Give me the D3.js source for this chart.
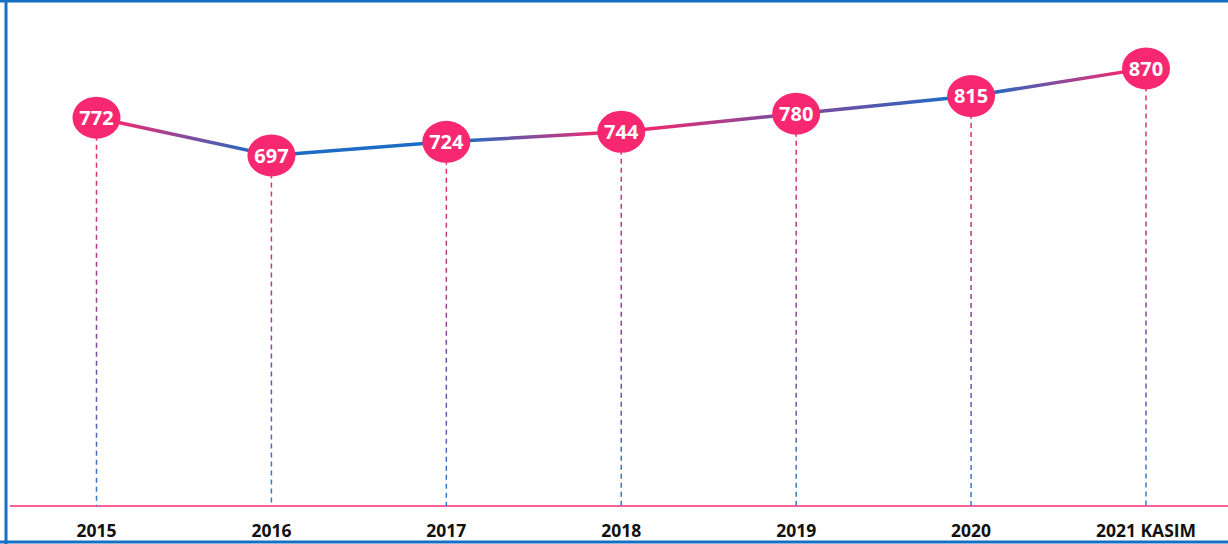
<!DOCTYPE html>
<html>
<head>
<meta charset="utf-8">
<script src="https://cdn.jsdelivr.net/npm/d3@7"></script>
<style>
  body { margin: 0; background: #fff; }
  svg { display: block; }
  .lbl { font-family: "Open Sans", sans-serif; font-weight: 700; }
</style>
</head>
<body>
<svg id="chart" width="1228" height="544"></svg>
<script>
const years = ["2015", "2016", "2017", "2018", "2019", "2020", "2021 KASIM"];
const values = [772, 697, 724, 744, 780, 815, 870];
// colour of the line at each point (the segments blend between them)
const pointColors = ["pink", "blue", "blue", "pink", "purple", "blue", "pink"];

const PINK = "#f7286f", BLUE = "#1d6cc4", PURPLE = "#7a4a9e";
const colorOf = { pink: PINK, blue: BLUE, purple: PURPLE };

var svg = d3.select("svg#chart"),
    width = +svg.attr("width"),
    height = +svg.attr("height");

// frame
svg.append("line").attr("x1", 6).attr("x2", 6).attr("y1", 0).attr("y2", height)
  .attr("stroke", "#1570c4").attr("stroke-width", 3);
svg.append("line").attr("x1", 0).attr("x2", width).attr("y1", 1).attr("y2", 1)
  .attr("stroke", "#1570c4").attr("stroke-width", 3);
svg.append("line").attr("x1", 0).attr("x2", width).attr("y1", 542).attr("y2", 542)
  .attr("stroke", "#1570c4").attr("stroke-width", 3);

// SCALES
var x = d3.scalePoint().domain(years).range([96.5, 1146]);
var y = d3.scaleLinear().domain([0, 1000]).range([506, 3]);

var defs = svg.append("defs");

// baseline
svg.append("line")
  .attr("x1", 10).attr("x2", width)
  .attr("y1", y(0)).attr("y2", y(0))
  .attr("stroke", "#ff2a7a").attr("stroke-width", 1.5);

// drop lines, pink at top fading to blue at bottom
years.forEach((yr, i) => {
  var id = "drop" + i;
  var g = defs.append("linearGradient").attr("id", id)
    .attr("gradientUnits", "userSpaceOnUse")
    .attr("x1", 0).attr("x2", 0).attr("y1", y(values[i])).attr("y2", y(0));
  g.append("stop").attr("offset", 0).attr("stop-color", PINK);
  g.append("stop").attr("offset", 0.6).attr("stop-color", PURPLE);
  g.append("stop").attr("offset", 1).attr("stop-color", "#2a7fd0");
  svg.append("line")
    .attr("x1", x(yr)).attr("x2", x(yr))
    .attr("y1", y(values[i])).attr("y2", y(0))
    .attr("stroke", `url(#${id})`)
    .attr("stroke-width", 1.5)
    .attr("stroke-dasharray", "5,4");
});

// line segments with per-segment gradient
for (let i = 0; i < years.length - 1; i++) {
  var id = "seg" + i;
  var x1 = x(years[i]), x2 = x(years[i + 1]);
  var y1 = y(values[i]), y2 = y(values[i + 1]);
  var g = defs.append("linearGradient").attr("id", id)
    .attr("gradientUnits", "userSpaceOnUse")
    .attr("x1", x1).attr("x2", x2).attr("y1", y1).attr("y2", y2);
  g.append("stop").attr("offset", 0.1).attr("stop-color", colorOf[pointColors[i]]);
  g.append("stop").attr("offset", 0.9).attr("stop-color", colorOf[pointColors[i + 1]]);
  svg.append("line")
    .attr("x1", x1).attr("y1", y1).attr("x2", x2).attr("y2", y2)
    .attr("stroke", `url(#${id})`)
    .attr("stroke-width", 3.5)
    .attr("stroke-linecap", "round");
}

// markers
var pts = svg.append("g").selectAll("g")
  .data(values)
  .enter().append("g")
  .attr("transform", (d, i) => `translate(${x(years[i])},${y(d)})`);

pts.append("ellipse")
  .attr("rx", 24).attr("ry", 21)
  .attr("fill", PINK);

pts.append("text")
  .attr("class", "lbl")
  .attr("text-anchor", "middle")
  .attr("dy", "0.36em")
  .attr("font-size", 20)
  .attr("fill", "#fff")
  .text(d => d);

// x axis labels
svg.append("g").selectAll("text")
  .data(years)
  .enter().append("text")
  .attr("class", "lbl")
  .attr("x", d => x(d))
  .attr("y", 537)
  .attr("text-anchor", "middle")
  .attr("font-size", 17.5)
  .attr("fill", "#111")
  .text(d => d);
</script>
</body>
</html>
